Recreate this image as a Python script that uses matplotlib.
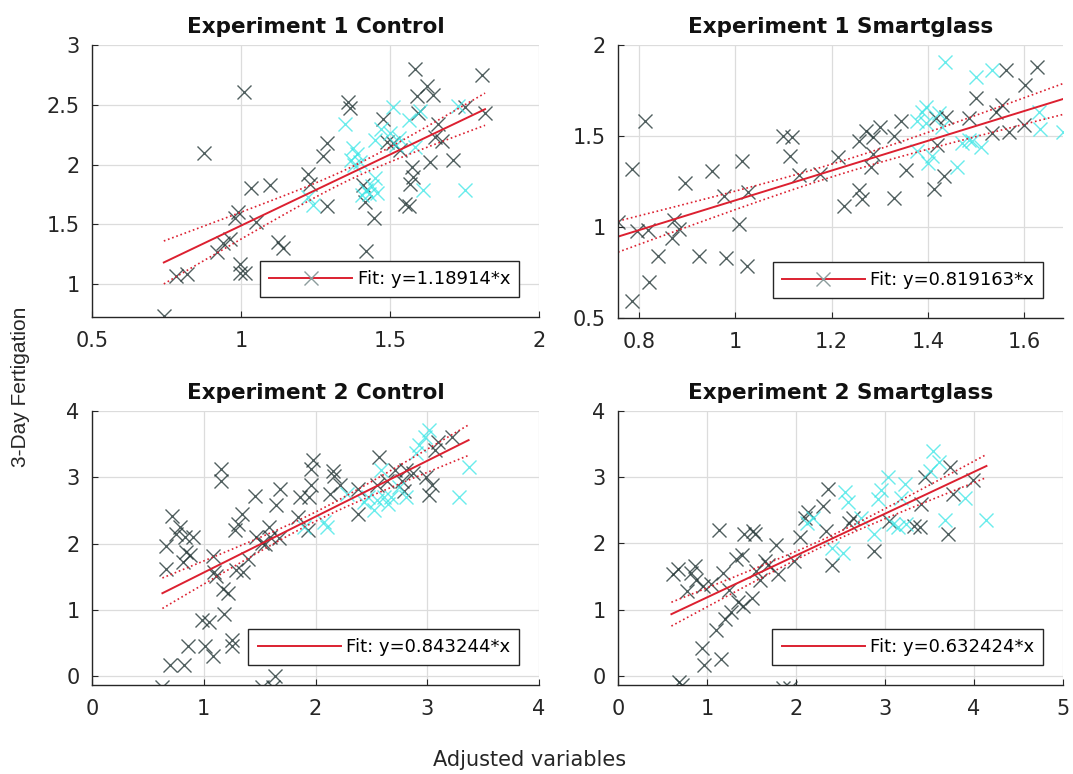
import numpy as np
import matplotlib
matplotlib.use("Agg")
import matplotlib.pyplot as plt
from matplotlib.lines import Line2D
from matplotlib.legend_handler import HandlerTuple
from matplotlib.ticker import FormatStrFormatter

plt.rcParams['font.family'] = ['DejaVu Sans']

# Experiment 1, control group
e1c_dark_x = [0.741, 0.782, 0.820, 0.875, 0.918, 0.940, 0.962, 0.979, 0.990, 0.996, 0.996, 1.013,
              1.009, 1.035, 1.052, 1.097, 1.125, 1.140, 1.226, 1.232, 1.276, 1.287, 1.287, 1.360,
              1.365, 1.410, 1.416, 1.445, 1.418, 1.475, 1.489, 1.511, 1.535, 1.552, 1.563, 1.567,
              1.573, 1.578, 1.584, 1.589, 1.595, 1.623, 1.634, 1.645, 1.651, 1.662, 1.673, 1.712,
              1.750, 1.808, 1.819]
e1c_dark_y = [0.730, 1.067, 1.084, 2.100, 1.270, 1.340, 1.380, 1.550, 1.605, 1.170, 1.090, 1.090,
              2.610, 1.800, 1.520, 1.825, 1.350, 1.300, 1.925, 1.840, 2.070, 2.180, 1.650, 2.525,
              2.470, 1.830, 1.690, 1.550, 1.280, 2.380, 2.190, 2.180, 2.120, 1.670, 1.650, 1.840,
              1.980, 1.900, 2.800, 2.570, 2.430, 2.660, 2.020, 2.580, 2.230, 2.340, 2.200, 2.040,
              2.480, 2.750, 2.430]
e1c_cyan_x = [1.226, 1.240, 1.349, 1.376, 1.370, 1.388, 1.399, 1.405, 1.420, 1.440, 1.450, 1.456,
              1.450, 1.500, 1.511, 1.520, 1.563, 1.584, 1.612, 1.729, 1.750, 1.380, 1.430, 1.470,
              1.530, 1.600]
e1c_cyan_y = [1.730, 1.660, 2.340, 2.135, 2.040, 2.090, 2.020, 1.745, 1.790, 1.820, 1.890, 1.760,
              2.205, 2.260, 2.480, 2.160, 2.370, 2.150, 1.790, 2.490, 1.790, 2.000, 1.750, 2.300,
              2.220, 2.450]

# Experiment 1, smartglass group
e1s_dark_x = [0.757, 0.787, 0.787, 0.812, 0.797, 0.819, 0.821, 0.840, 0.868, 0.874, 0.883, 0.897,
              0.925, 0.952, 0.976, 0.981, 1.007, 1.015, 1.026, 1.024, 1.100, 1.118, 1.114, 1.133,
              1.176, 1.214, 1.226, 1.257, 1.263, 1.256, 1.271, 1.281, 1.285, 1.300, 1.285, 1.330,
              1.330, 1.343, 1.354, 1.412, 1.416, 1.419, 1.433, 1.437, 1.485, 1.499, 1.533, 1.540,
              1.554, 1.561, 1.568, 1.602, 1.599, 1.626]
e1s_dark_y = [1.026, 1.318, 0.592, 1.580, 0.976, 0.985, 0.700, 0.843, 0.940, 1.040, 0.990, 1.240,
              0.843, 1.305, 1.170, 0.830, 1.018, 1.360, 1.195, 0.788, 1.500, 1.494, 1.390, 1.287,
              1.290, 1.384, 1.117, 1.205, 1.154, 1.470, 1.530, 1.330, 1.497, 1.550, 1.400, 1.159,
              1.500, 1.585, 1.314, 1.210, 1.600, 1.450, 1.278, 1.605, 1.600, 1.707, 1.515, 1.634,
              1.670, 1.863, 1.520, 1.780, 1.560, 1.880]
e1s_cyan_x = [1.378, 1.388, 1.395, 1.378, 1.399, 1.409, 1.423, 1.435, 1.430, 1.461, 1.471, 1.492,
              1.499, 1.509, 1.533, 1.630, 1.633, 1.680, 1.485, 1.395]
e1s_cyan_y = [1.585, 1.630, 1.570, 1.415, 1.350, 1.390, 1.625, 1.909, 1.550, 1.330, 1.460, 1.470,
              1.826, 1.440, 1.863, 1.634, 1.540, 1.520, 1.480, 1.660]

# Experiment 2, control group
e2c_dark_x = [0.63, 0.666, 0.66, 0.72, 0.696, 0.755, 0.785, 0.82, 0.839, 0.83, 0.86, 0.88, 0.904,
              0.81, 0.98, 1.01, 1.05, 1.08, 1.08, 1.09, 1.11, 1.15, 1.155, 1.17, 1.18, 1.22, 1.25,
              1.25, 1.28, 1.31, 1.34, 1.29, 1.35, 1.40, 1.457, 1.47, 1.52, 1.52, 1.55, 1.585, 1.59,
              1.62, 1.64, 1.645, 1.68, 1.67, 1.84, 1.86, 1.93, 1.94, 1.96, 1.98, 1.96, 2.13, 2.16,
              2.17, 2.22, 2.38, 2.38, 2.55, 2.57, 2.64, 2.71, 2.77, 2.79, 2.81, 2.87, 2.99, 3.04,
              3.02, 3.07, 3.10, 3.22]
e2c_dark_y = [-0.16, 1.62, 1.96, 2.41, 0.166, 2.15, 2.25, 0.166, 1.87, 2.10, 0.45, 1.82, 2.10,
              1.72, 0.84, 0.45, 0.82, 0.30, 1.81, 1.57, 1.51, 3.12, 2.95, 1.32, 0.93, 1.26, 0.55,
              0.45, 2.21, 2.30, 2.45, 1.60, 1.57, 1.76, 2.71, 2.10, 2.01, -0.16, 2.00, 2.25, 2.10,
              -0.16, 0.00, 2.58, 2.83, 2.08, 2.40, 2.70, 2.21, 2.70, 2.88, 3.26, 3.13, 2.75, 3.10,
              3.02, 2.88, 2.83, 2.44, 2.88, 3.31, 2.95, 3.11, 2.95, 2.80, 3.11, 3.06, 3.00, 2.88,
              2.73, 3.41, 3.53, 3.61]
e2c_cyan_x = [2.08, 2.10, 2.28, 2.43, 2.47, 2.52, 2.59, 2.61, 2.65, 2.68, 2.81, 2.90, 2.93, 2.98,
              3.02, 3.28, 3.37, 1.90, 2.55, 2.75]
e2c_cyan_y = [2.33, 2.25, 2.75, 2.63, 2.70, 2.50, 3.11, 2.70, 2.60, 2.70, 2.70, 3.36, 3.48, 3.61,
              3.71, 2.70, 3.16, 2.25, 2.65, 2.85]

# Experiment 2, smartglass group
e2s_dark_x = [0.62, 0.67, 0.69, 0.72, 0.77, 0.82, 0.86, 0.88, 0.94, 0.955, 0.97, 1.05, 1.10, 1.14,
              1.16, 1.18, 1.20, 1.25, 1.27, 1.33, 1.35, 1.39, 1.40, 1.42, 1.50, 1.52, 1.54, 1.55,
              1.59, 1.65, 1.69, 1.78, 1.80, 1.85, 1.93, 1.98, 2.04, 2.10, 2.13, 2.30, 2.34, 2.36,
              2.40, 2.60, 2.64, 2.88, 3.05, 3.33, 3.39, 3.41, 3.45, 3.71, 3.73, 3.76, 3.99]
e2s_dark_y = [1.53, 1.61, -0.09, -0.14, 1.28, 1.55, 1.66, 1.45, 0.42, 1.35, 0.16, 1.38, 0.69, 2.20,
              0.26, 1.55, 0.85, 1.30, 0.97, 1.76, 1.12, 1.83, 1.05, 2.14, 1.17, 2.19, 2.14, 1.58,
              1.45, 1.73, 1.68, 1.98, 1.53, -0.19, -0.19, 1.73, 2.09, 2.39, 2.47, 2.57, 2.19, 2.82,
              1.68, 2.31, 2.39, 1.88, 2.34, 2.26, 2.24, 2.59, 3.00, 2.14, 3.15, 2.74, 2.95]
e2s_cyan_x = [2.12, 2.19, 2.41, 2.53, 2.55, 2.58, 2.73, 2.88, 2.92, 2.96, 3.03, 3.09, 3.15, 3.18,
              3.22, 3.24, 3.50, 3.54, 3.61, 3.67, 3.90, 4.14]
e2s_cyan_y = [2.31, 2.39, 1.93, 1.86, 2.77, 2.62, 2.39, 2.14, 2.67, 2.80, 3.00, 2.29, 2.24, 2.69,
              2.90, 2.29, 3.10, 3.40, 3.23, 2.36, 2.69, 2.36]

titles = ['Experiment 1 Control', 'Experiment 1 Smartglass',
          'Experiment 2 Control', 'Experiment 2 Smartglass']
slopes = [1.18914, 0.819163, 0.843244, 0.632424]
intercepts = [0.30, 0.327, 0.719, 0.551]
fit_ranges = [(0.741, 1.819), (0.757, 1.68), (0.63, 3.37), (0.60, 4.14)]
# confidence band: centre x, half width at centre, spread factor
bands = [(1.366, 0.05, 0.276), (1.22, 0.035, 0.168), (2.0, 0.07, 0.16), (2.4, 0.05, 0.096)]

xlims = [(0.5, 2), (0.757, 1.68), (0, 4), (0, 5)]
ylims = [(0.725, 3), (0.5, 2), (-0.135, 4), (-0.14, 4)]
xticks = [[0.5, 1, 1.5, 2], [0.8, 1, 1.2, 1.4, 1.6], [0, 1, 2, 3, 4], [0, 1, 2, 3, 4, 5]]
yticks = [[1, 1.5, 2, 2.5, 3], [0.5, 1, 1.5, 2], [0, 1, 2, 3, 4], [0, 1, 2, 3, 4]]

groups = [(e1c_dark_x, e1c_dark_y, e1c_cyan_x, e1c_cyan_y),
          (e1s_dark_x, e1s_dark_y, e1s_cyan_x, e1s_cyan_y),
          (e2c_dark_x, e2c_dark_y, e2c_cyan_x, e2c_cyan_y),
          (e2s_dark_x, e2s_dark_y, e2s_cyan_x, e2s_cyan_y)]

W, H = 1073, 774
fig = plt.figure(figsize=(W / 100, H / 100), dpi=100)

# axes boxes in pixels: left, top, right, bottom
boxes = [(92, 45, 539, 317), (618, 45, 1063, 318),
         (92, 411, 539, 685), (618, 411, 1063, 685)]

red = '#dc2030'
dark = '#263838'
cyan = '#38e6e6'
ink = '#262626'

for i in range(4):
    l, t, r, b = boxes[i]
    ax = fig.add_axes([l / W, 1 - b / H, (r - l) / W, (b - t) / H])
    dx, dy, cx, cy = groups[i]
    ax.plot(dx, dy, 'x', color=dark, alpha=0.8, markersize=10.5, markeredgewidth=1.0)
    ax.plot(cx, cy, 'x', color=cyan, alpha=0.75, markersize=10.5, markeredgewidth=1.0)

    x0, x1 = fit_ranges[i]
    xs = np.linspace(x0, x1, 100)
    fit = slopes[i] * xs + intercepts[i]
    xm, h0, k = bands[i]
    half = np.sqrt(h0 ** 2 + (k * (xs - xm)) ** 2)
    fit_line, = ax.plot(xs, fit, color=red, lw=1.4)
    ax.plot(xs, fit + half, ':', color=red, lw=1.2)
    ax.plot(xs, fit - half, ':', color=red, lw=1.2)

    ax.set_xlim(*xlims[i])
    ax.set_ylim(*ylims[i])
    ax.set_xticks(xticks[i])
    ax.set_yticks(yticks[i])
    ax.xaxis.set_major_formatter(FormatStrFormatter('%g'))
    ax.yaxis.set_major_formatter(FormatStrFormatter('%g'))
    ax.grid(True, color='#dcdcdc', lw=0.9)
    ax.set_axisbelow(True)
    for s in ['top', 'right']:
        ax.spines[s].set_visible(False)
    for s in ['left', 'bottom']:
        ax.spines[s].set_color(ink)
        ax.spines[s].set_linewidth(1.0)
    ax.tick_params(direction='in', length=4, labelsize=15, colors=ink)
    ax.tick_params(axis='x', pad=10)
    ax.tick_params(axis='y', pad=9)
    ax.set_title(titles[i], fontsize=15.5, fontweight='bold', pad=9, color='#111111')

    label = f'Fit: y={slopes[i]:g}*x'
    if i < 2:
        mark = Line2D([], [], ls='none', marker='x', color='#8c9c9c', markersize=10)
        handle = (fit_line, mark)
    else:
        handle = fit_line
    leg = ax.legend([handle], [label], loc='lower right', fontsize=13,
                    handlelength=4.6, handler_map={tuple: HandlerTuple(ndivide=1)},
                    fancybox=False, framealpha=1, edgecolor=ink,
                    borderaxespad=1.1, borderpad=0.5, handletextpad=0.3)
    leg.get_frame().set_linewidth(1.0)

fig.text(0.019, 0.5, '3-Day Fertigation', rotation=90, fontsize=15,
         family='Liberation Sans', va='center', ha='center', color=ink)
fig.text(0.494, 0.018, 'Adjusted variables', fontsize=15,
         va='center', ha='center', color=ink)

fig.savefig('out.png', dpi=100)
